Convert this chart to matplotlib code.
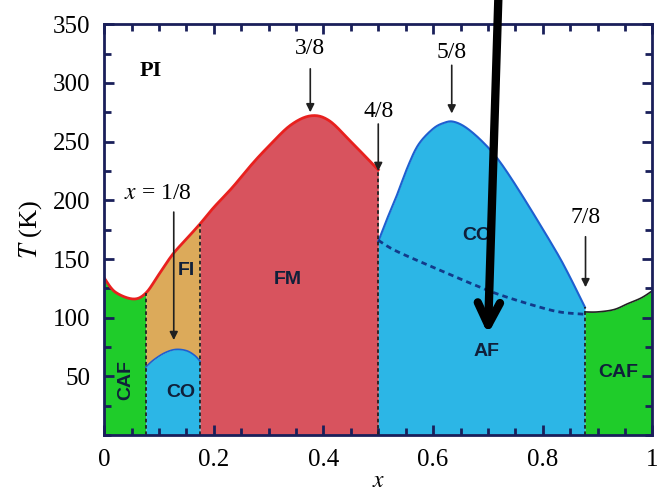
import numpy as np
import matplotlib.pyplot as plt
from matplotlib.ticker import MultipleLocator

# phase boundary data (x, T in K)
pi_x = [0.0, 0.02, 0.053, 0.076, 0.1, 0.125, 0.15, 0.175, 0.2, 0.234, 0.27, 0.3, 0.34, 0.377, 0.41, 0.45, 0.5]
pi_T = [134, 122, 116, 121, 137, 154, 167, 180, 194, 211, 231, 246, 264, 272, 268, 250, 226]

co_x = [0.5, 0.515, 0.532, 0.555, 0.574, 0.6, 0.62, 0.637, 0.66, 0.69, 0.72, 0.76, 0.82, 0.846, 0.877]
co_T = [165, 183, 202, 230, 248, 261, 266, 267, 262, 250, 234, 206, 160, 138, 109]

af_x = [0.5, 0.532, 0.6, 0.66, 0.713, 0.78, 0.83, 0.877]
af_T = [166, 157, 143, 131, 121, 111, 105, 103]

caf_r_x = [0.877, 0.9, 0.93, 0.955, 0.98, 1.0]
caf_r_T = [105, 105, 107, 112, 117, 123]

co_l_x = [0.076, 0.09, 0.11, 0.13, 0.15, 0.165, 0.175]
co_l_T = [58, 64, 70, 73, 72, 68, 63]

bounds = [0.076, 0.175, 0.5, 0.877]

labels = ["PI", "FI", "CO", "CAF", "FM", "CO", "AF", "CAF"]
label_x = [0.085, 0.15, 0.14, 0.04, 0.334, 0.68, 0.697, 0.938]
label_T = [310, 140, 36, 47, 133, 170, 71, 53]

fracs = ["3/8", "4/8", "5/8", "7/8", "$x$ = 1/8"]
frac_x = [0.376, 0.5, 0.634, 0.878, 0.127]
frac_text_T = [329, 276, 326, 185, 206]
frac_tail_T = [312, 265, 315, 169, 190]
frac_head_T = [275, 225, 274, 126, 81]

GREEN = '#1fcc2a'
ORANGE = '#dcaa5a'
RED = '#d8535e'
BLUE = '#2cb6e6'

plt.rcParams['font.family'] = ['Liberation Serif', 'DejaVu Serif']
plt.rcParams['mathtext.fontset'] = 'stix'


def smooth(xs, ys, n=20):
    # Catmull-Rom through the read points, for drawing only
    p = np.column_stack([xs, ys]).astype(float)
    p = np.vstack([p[0], p, p[-1]])
    out = []
    t = np.linspace(0, 1, n, endpoint=False)[:, None]
    for i in range(1, len(p) - 2):
        p0, p1, p2, p3 = p[i - 1], p[i], p[i + 1], p[i + 2]
        seg = 0.5 * (2 * p1 + (-p0 + p2) * t + (2 * p0 - 5 * p1 + 4 * p2 - p3) * t ** 2
                     + (-p0 + 3 * p1 - 3 * p2 + p3) * t ** 3)
        out.append(seg)
    out.append(p[-2][None, :])
    out = np.vstack(out)
    return out[:, 0], out[:, 1]


fig = plt.figure(figsize=(6.59, 4.94), dpi=100)
ax = fig.add_axes([0.158, 0.119, 0.832, 0.832])

spx, spT = smooth(pi_x, pi_T)
scx, scT = smooth(co_x, co_T)
sax, saT = smooth(af_x, af_T)
srx, srT = smooth(caf_r_x, caf_r_T)
slx, slT = smooth(co_l_x, co_l_T)


def seg(xs, ys, lo, hi, n=200):
    xx = np.linspace(lo, hi, n)
    return xx, np.interp(xx, xs, ys)


# green CAF left
xx, yy = seg(spx, spT, 0, bounds[0])
ax.fill_between(xx, 0, yy, color=GREEN, lw=0)
# FI region and CO below it
xx, yy = seg(spx, spT, bounds[0], bounds[1])
_, yc = seg(slx, slT, bounds[0], bounds[1])
ax.fill_between(xx, yc, yy, color=ORANGE, lw=0)
ax.fill_between(xx, 0, yc, color=BLUE, lw=0)
ax.plot(slx, slT, color='#1e5fd0', lw=1.2)
# FM
xx, yy = seg(spx, spT, bounds[1], bounds[2])
ax.fill_between(xx, 0, yy, color=RED, lw=0)
# CO / AF
xx, yy = seg(scx, scT, bounds[2], bounds[3])
ax.fill_between(xx, 0, yy, color=BLUE, lw=0)
ax.plot(scx, scT, color='#1e5fd0', lw=1.5)
ax.plot(sax, saT, color='#123a8a', lw=2, ls=(0, (2, 1.5)))
# CAF right
xx, yy = seg(srx, srT, bounds[3], 1.0)
ax.fill_between(xx, 0, yy, color=GREEN, lw=0)
ax.plot(srx, srT, color='#222222', lw=1.2)

ax.plot(spx, spT, color='#e8201e', lw=2)

# dashed vertical boundaries
tops = [np.interp(bounds[0], pi_x, pi_T), np.interp(bounds[1], pi_x, pi_T),
        np.interp(bounds[2], pi_x, pi_T), np.interp(bounds[3], co_x, co_T)]
for b, t in zip(bounds, tops):
    ax.plot([b, b], [0, t], color='#222222', lw=1.3, ls=(0, (2, 1.5)))

# region labels
for s, lx, lt in zip(labels, label_x, label_T):
    if s == "PI":
        ax.text(lx, lt, s, fontsize=16, fontweight='bold', ha='center', va='center')
    else:
        rot = 90 if (s == "CAF" and lx < 0.5) else 0
        ax.text(lx, lt, s, fontsize=14, fontweight='bold', ha='center', va='center',
                rotation=rot, family=['Liberation Sans', 'DejaVu Sans'], color='#10203a')

# fraction arrows
for s, fx, tt, ta, th in zip(fracs, frac_x, frac_text_T, frac_tail_T, frac_head_T):
    tx = fx - 0.03 if s.startswith("$") else fx
    ax.text(tx, tt, s, fontsize=17, ha='center', va='center')
    ax.annotate('', xy=(fx, th), xytext=(fx, ta),
                arrowprops=dict(arrowstyle='-|>', color='#202020', lw=1.2,
                                mutation_scale=12, shrinkA=0, shrinkB=0))

# big overlay arrow
ax.annotate('', xy=(0.70, 86), xytext=(0.719, 372), annotation_clip=False,
            arrowprops=dict(arrowstyle='->', color='black', lw=6,
                            mutation_scale=40, shrinkA=0, shrinkB=0))

ax.set_xlim(0, 1)
ax.set_ylim(0, 350)
ax.xaxis.set_minor_locator(MultipleLocator(0.05))
ax.yaxis.set_minor_locator(MultipleLocator(25))
ax.set_yticks([50, 100, 150, 200, 250, 300, 350])
ax.set_xticks([0, 0.2, 0.4, 0.6, 0.8, 1.0])
ax.set_xticklabels(['0', '0.2', '0.4', '0.6', '0.8', '1'])
ax.tick_params(which='both', direction='in', top=True, right=True, color='#1a1f5a',
               width=2, labelsize=18, pad=10)
ax.tick_params(which='major', length=7)
ax.tick_params(which='minor', length=5)
for sp in ax.spines.values():
    sp.set_color('#1a1f5a')
    sp.set_linewidth(2)

ax.set_xlabel('$x$', fontsize=17, labelpad=0)
ax.set_ylabel('$T$ (K)', fontsize=19, labelpad=6)

fig.savefig('out.png', dpi=100)
